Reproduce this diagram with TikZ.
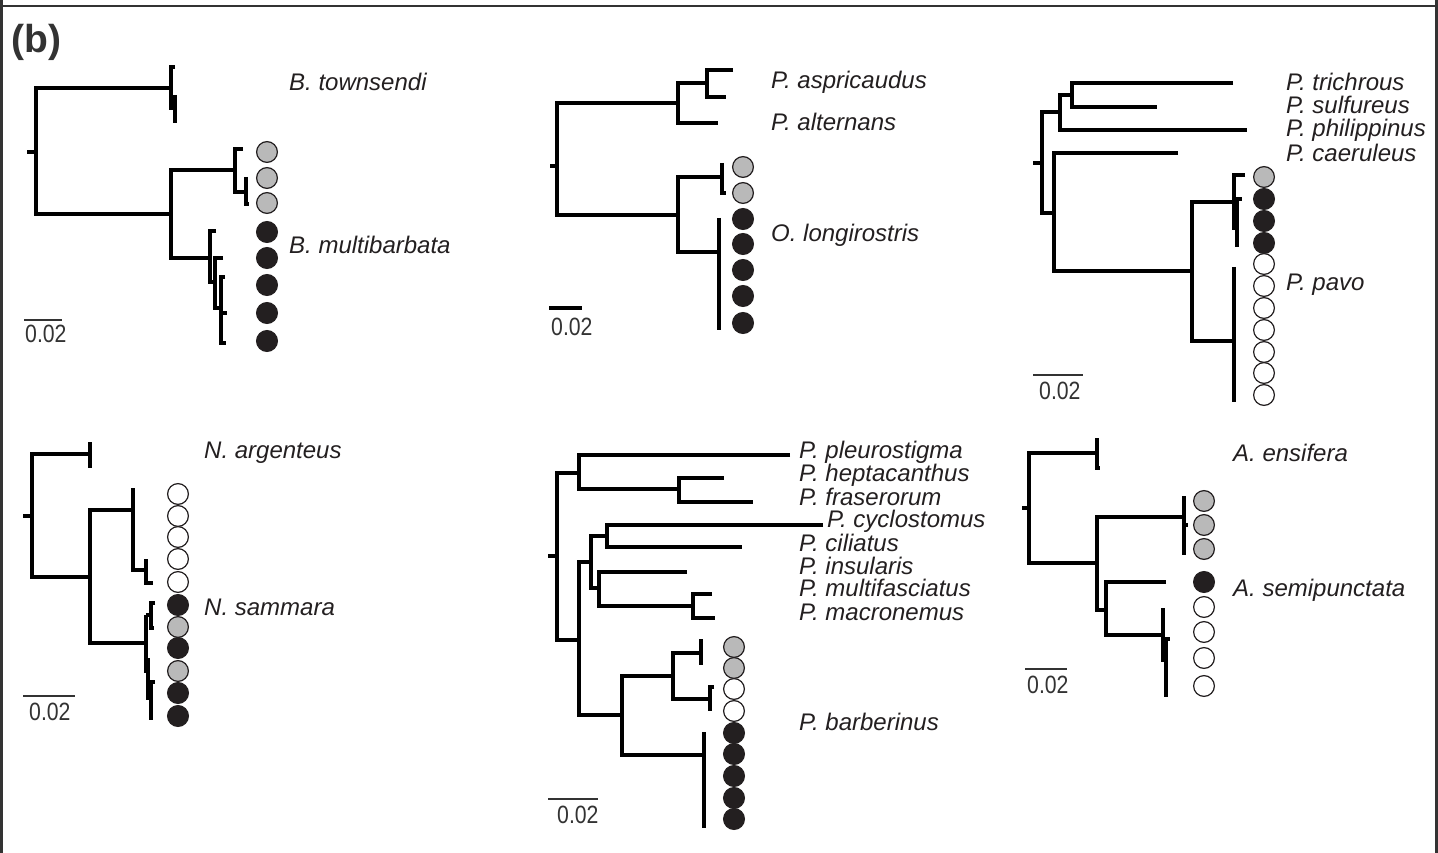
\documentclass[tikz,border=0pt]{standalone}
\usepackage{fontspec}
\setmainfont{Liberation Sans}
\newfontfamily\barfont{Liberation Sans}[FakeStretch=0.85]
\usepackage{tikz}
\definecolor{tipgrey}{RGB}{185,185,185}
\definecolor{tipblack}{RGB}{35,31,32}
\definecolor{inkgrey}{RGB}{51,51,51}
\tikzstyle{branch} = [line width=3.4pt, line join=miter, color=black]
\tikzstyle{tip_grey} = [circle, draw=tipblack, line width=1.2pt, fill=tipgrey, inner sep=0pt, minimum size=20.8pt]
\tikzstyle{tip_black} = [circle, draw=tipblack, line width=1.2pt, fill=tipblack, inner sep=0pt, minimum size=20.8pt]
\tikzstyle{tip_white} = [circle, draw=tipblack, line width=1.2pt, fill=white, inner sep=0pt, minimum size=20.8pt]
\tikzstyle{species} = [anchor=west, inner sep=0pt, text=tipblack, font=\fontsize{24}{24}\selectfont\itshape]
\tikzstyle{bar_thin} = [line width=1.6pt, color=inkgrey]
\tikzstyle{bar_thick} = [line width=3.3pt, color=black]
\tikzstyle{bar_label} = [anchor=west, inner sep=0pt, text=inkgrey, font=\fontsize{25}{25}\selectfont\barfont]
\tikzstyle{frame} = [line width=2.5pt, color=inkgrey]

\begin{document}
\begin{tikzpicture}[x=1pt, y=-1pt]
		\useasboundingbox (0,0) rectangle (1438,853);
		\draw[frame] (0,6) -- (1438,6) (1.3,0) -- (1.3,853) (1436.7,0) -- (1436.7,853);
		\node (panel) at (11,42) [anchor=west, inner sep=0pt, text=inkgrey, font=\fontsize{39}{39}\selectfont\bfseries] {(b)};
		
		% B. townsendi / B. multibarbata
		\draw[branch] (27,152) -- (36,152);
		\draw[branch] (171,88) -| (36,214) -- (171,214);
		\draw[branch] (175,67) -| (171,108) -- (175,108) (175,95) -- (175,123);
		\draw[branch] (235,170) -| (171,258) -- (210,258);
		\draw[branch] (243,149) -| (235,192) -- (246,192) (246,177) -- (246,204) -- (249,204);
		\draw[branch] (216,231) -| (210,282) -- (215,282);
		\draw[branch] (223,258) -| (215,308) -- (221,308);
		\draw[branch] (225,277) -| (221,343) -- (226,343) (221,313) -- (227,313);
		\node (B1) at (267,152) [tip_grey] {};
		\node (B2) at (267,178) [tip_grey] {};
		\node (B3) at (267,203) [tip_grey] {};
		\node (B4) at (267,232) [tip_black] {};
		\node (B5) at (267,258) [tip_black] {};
		\node (B6) at (267,285) [tip_black] {};
		\node (B7) at (267,313) [tip_black] {};
		\node (B8) at (267,341) [tip_black] {};
		\node (Btow) at (289,82) [species] {B. townsendi};
		\node (Bmul) at (289,245) [species] {B. multibarbata};
		\draw[bar_thin] (24,320) -- (62,320);
		\node (Bbar) at (25,334) [bar_label] {0.02};
		
		% P. aspricaudus / P. alternans / O. longirostris
		\draw[branch] (550,166) -- (557,166);
		\draw[branch] (678,103) -| (557,215) -- (678,215);
		\draw[branch] (707,83) -| (678,123) -- (718,123);
		\draw[branch] (733,70) -| (707,97) -- (726,97);
		\draw[branch] (722,177) -| (678,252) -- (719,252);
		\draw[branch] (722,163) -- (722,193) -- (726,193) (719,218) -- (719,330);
		\node (O1) at (743,167) [tip_grey] {};
		\node (O2) at (743,193) [tip_grey] {};
		\node (O3) at (743,219) [tip_black] {};
		\node (O4) at (743,244) [tip_black] {};
		\node (O5) at (743,270) [tip_black] {};
		\node (O6) at (743,296) [tip_black] {};
		\node (O7) at (743,323) [tip_black] {};
		\node (Pasp) at (771,82) [species] {P. aspricaudus};
		\node (Palt) at (771,122) [species] {P. alternans};
		\node (Olon) at (771,235) [species] {O. longirostris};
		\draw[bar_thick] (549,308) -- (582,308);
		\node (Obar) at (551,327) [bar_label] {0.02};
		
		% P. trichrous ... P. pavo
		\draw[branch] (1033,163) -- (1042,163);
		\draw[branch] (1060,112) -| (1042,213) -- (1054,213);
		\draw[branch] (1072,95) -| (1060,130) -- (1247,130);
		\draw[branch] (1233,83) -| (1072,107) -- (1157,107);
		\draw[branch] (1178,153) -| (1054,271) -- (1192,271);
		\draw[branch] (1234,202) -| (1192,341) -- (1234,341);
		\draw[branch] (1245,175) -| (1234,230) (1234,199) -- (1242,199) (1237,199) -- (1237,247);
		\draw[branch] (1234,267) -- (1234,402);
		\node (V1) at (1264,177) [tip_grey] {};
		\node (V2) at (1264,199) [tip_black] {};
		\node (V3) at (1264,221) [tip_black] {};
		\node (V4) at (1264,243) [tip_black] {};
		\node (V5) at (1264,264) [tip_white] {};
		\node (V6) at (1264,286) [tip_white] {};
		\node (V7) at (1264,308) [tip_white] {};
		\node (V8) at (1264,330) [tip_white] {};
		\node (V9) at (1264,352) [tip_white] {};
		\node (V10) at (1264,373) [tip_white] {};
		\node (V11) at (1264,395) [tip_white] {};
		\node (Ptri) at (1286,82) [species] {P. trichrous};
		\node (Psul) at (1286,105) [species] {P. sulfureus};
		\node (Pphi) at (1286,130) [species] {P. philippinus};
		\node (Pcae) at (1286,153) [species] {P. caeruleus};
		\node (Ppav) at (1286,285) [species] {P. pavo};
		\draw[bar_thin] (1033,375) -- (1083,375);
		\node (Vbar) at (1039,391) [bar_label] {0.02};
		
		% N. argenteus / N. sammara
		\draw[branch] (23,516) -- (32,516);
		\draw[branch] (90,454) -| (32,577) -- (90,577) (90,442) -- (90,468);
		\draw[branch] (133,510) -| (90,643) -- (146,643);
		\draw[branch] (133,488) -- (133,570) -- (146,570) (146,559) -- (146,583) -- (153,583);
		\draw[branch] (146,615) -- (146,673) (146,615) -- (151,615) (155,603) -| (151,628) -- (154,628);
		\draw[branch] (146,673) -- (148,673) (148,658) -- (148,700);
		\draw[branch] (148,682) -- (155,682) (151,682) -- (151,720);
		\node (N1) at (178,494) [tip_white] {};
		\node (N2) at (178,516) [tip_white] {};
		\node (N3) at (178,537) [tip_white] {};
		\node (N4) at (178,559) [tip_white] {};
		\node (N5) at (178,582) [tip_white] {};
		\node (N6) at (178,605) [tip_black] {};
		\node (N7) at (178,627) [tip_grey] {};
		\node (N8) at (178,648) [tip_black] {};
		\node (N9) at (178,671) [tip_grey] {};
		\node (N10) at (178,693) [tip_black] {};
		\node (N11) at (178,716) [tip_black] {};
		\node (Narg) at (204,453) [species] {N. argenteus};
		\node (Nsam) at (204,607) [species] {N. sammara};
		\draw[bar_thin] (23,696) -- (75,696);
		\node (Nbar) at (29,712) [bar_label] {0.02};
		
		% P. pleurostigma ... P. barberinus
		\draw[branch] (548,556) -- (557,556);
		\draw[branch] (579,473) -| (557,640) -- (579,640);
		\draw[branch] (790,455) -| (579,489) -- (679,489);
		\draw[branch] (724,478) -| (679,502) -- (753,502);
		\draw[branch] (591,562) -| (579,715) -- (622,715);
		\draw[branch] (607,536) -| (591,588) -- (599,588);
		\draw[branch] (823,525) -| (607,547) -- (742,547);
		\draw[branch] (687,572) -| (599,606) -- (693,606);
		\draw[branch] (712,594) -| (693,618) -- (715,618);
		\draw[branch] (673,676) -| (622,755) -- (704,755);
		\draw[branch] (701,653) -| (673,699) -- (710,699) (701,639) -- (701,665);
		\draw[branch] (714,687) -| (710,711) (704,732) -- (704,828);
		\node (R1) at (734,647) [tip_grey] {};
		\node (R2) at (734,668) [tip_grey] {};
		\node (R3) at (734,689) [tip_white] {};
		\node (R4) at (734,711) [tip_white] {};
		\node (R5) at (734,733) [tip_black] {};
		\node (R6) at (734,754) [tip_black] {};
		\node (R7) at (734,776) [tip_black] {};
		\node (R8) at (734,798) [tip_black] {};
		\node (R9) at (734,819) [tip_black] {};
		\node (Pple) at (799,452) [species] {P. pleurostigma};
		\node (Phep) at (799,475) [species] {P. heptacanthus};
		\node (Pfra) at (799,497) [species] {P. fraserorum};
		\node (Pcyc) at (827,521) [species] {P. cyclostomus};
		\node (Pcil) at (799,543) [species] {P. ciliatus};
		\node (Pins) at (799,566) [species] {P. insularis};
		\node (Pmul) at (799,588) [species] {P. multifasciatus};
		\node (Pmac) at (799,612) [species] {P. macronemus};
		\node (Pbar) at (799,722) [species] {P. barberinus};
		\draw[bar_thin] (548,799) -- (598,799);
		\node (Rbar) at (557,815) [bar_label] {0.02};
		
		% A. ensifera / A. semipunctata
		\draw[branch] (1022,508) -- (1029,508);
		\draw[branch] (1097,453) -| (1029,563) -- (1097,563) (1097,438) -- (1097,468) -- (1100,468);
		\draw[branch] (1184,517) -| (1097,610) -- (1106,610) (1184,496) -- (1184,555) (1184,525) -- (1188,525);
		\draw[branch] (1166,582) -| (1106,635) -- (1163,635);
		\draw[branch] (1163,608) -- (1163,662) (1163,639) -- (1170,639) (1166,639) -- (1166,697);
		\node (A1) at (1204,501) [tip_grey] {};
		\node (A2) at (1204,525) [tip_grey] {};
		\node (A3) at (1204,549) [tip_grey] {};
		\node (A4) at (1204,582) [tip_black] {};
		\node (A5) at (1204,607) [tip_white] {};
		\node (A6) at (1204,632) [tip_white] {};
		\node (A7) at (1204,658) [tip_white] {};
		\node (A8) at (1204,686) [tip_white] {};
		\node (Aens) at (1233,453) [species] {A. ensifera};
		\node (Asem) at (1233,590) [species] {A. semipunctata};
		\draw[bar_thin] (1025,669) -- (1067,669);
		\node (Abar) at (1027,685) [bar_label] {0.02};
		\end{tikzpicture}
\end{document}
